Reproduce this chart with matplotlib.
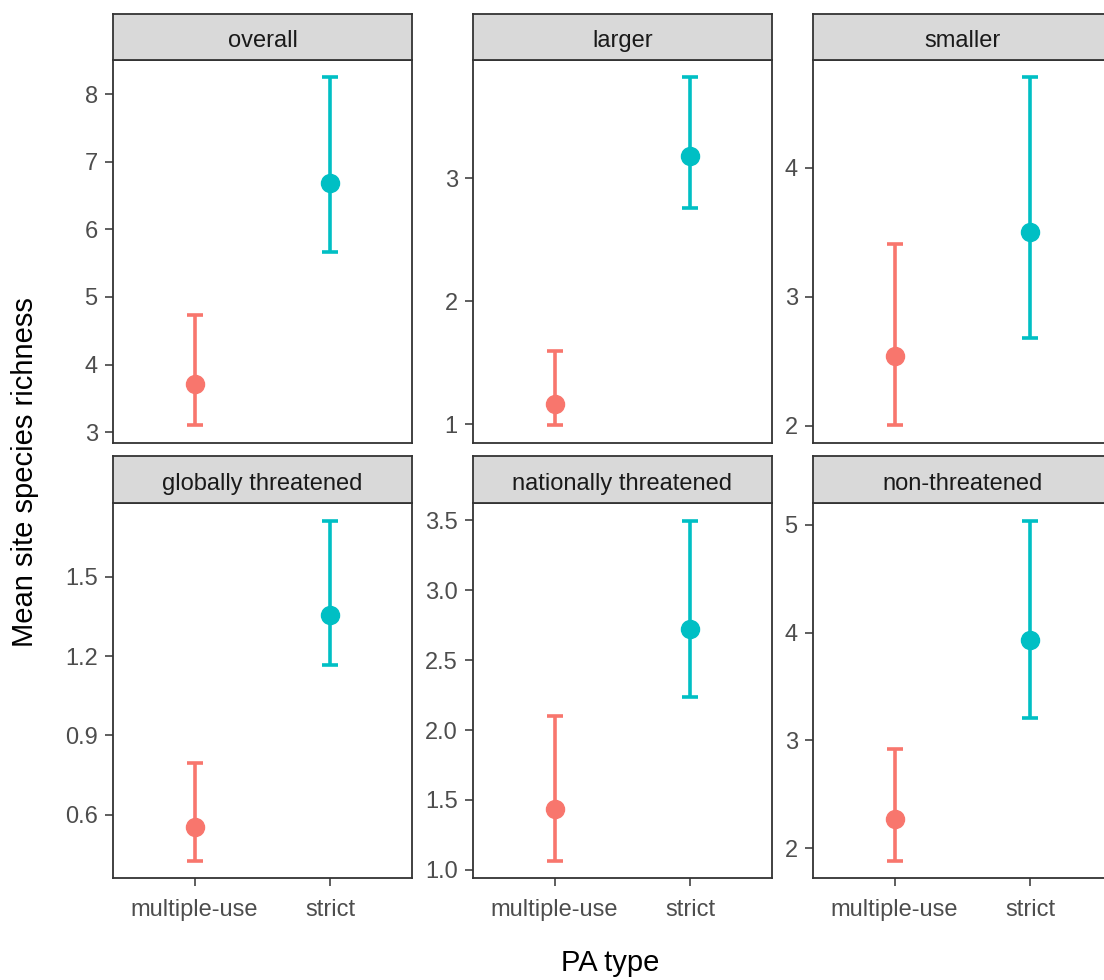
import matplotlib.pyplot as plt
import numpy as np

# Mean site species richness (point) with lower / upper interval, per PA type
pa_types = ["multiple-use", "strict"]
facets = ["overall", "larger", "smaller",
          "globally threatened", "nationally threatened", "non-threatened"]

means = [[3.71, 6.69], [1.16, 3.18], [2.54, 3.50],
         [0.555, 1.356], [1.437, 2.725], [2.27, 3.93]]
lowers = [[3.10, 5.66], [0.99, 2.76], [2.005, 2.68],
          [0.424, 1.167], [1.062, 2.238], [1.877, 3.21]]
uppers = [[4.74, 8.25], [1.595, 3.82], [3.41, 4.70],
          [0.796, 1.713], [2.10, 3.497], [2.92, 5.04]]

yticks = [[3, 4, 5, 6, 7, 8], [1, 2, 3], [2, 3, 4],
          [0.6, 0.9, 1.2, 1.5], [1.0, 1.5, 2.0, 2.5, 3.0, 3.5], [2, 3, 4, 5]]
ytick_labels = [["3", "4", "5", "6", "7", "8"], ["1", "2", "3"], ["2", "3", "4"],
                ["0.6", "0.9", "1.2", "1.5"],
                ["1.0", "1.5", "2.0", "2.5", "3.0", "3.5"], ["2", "3", "4", "5"]]

colors = ["#F8766D", "#00BFC4"]

plt.rcParams['font.family'] = ['Liberation Sans', 'DejaVu Sans']

W, H = 1104, 980
fig = plt.figure(figsize=(W / 100, H / 100), dpi=100)

col_left = [113, 473, 813]
panel_w = 299
rows = [(60, 442.7, 14), (503.5, 878.3, 456)]  # panel top, panel bottom, strip top

edge = "#333333"
tick_fs = 17

for i, name in enumerate(facets):
    r, c = divmod(i, 3)
    top, bot, stop = rows[r]
    x0 = col_left[c]
    ax = fig.add_axes([x0 / W, 1 - bot / H, panel_w / W, (bot - top) / H])
    sax = fig.add_axes([x0 / W, 1 - top / H, panel_w / W, (top - stop) / H])

    lo = np.array(lowers[i])
    hi = np.array(uppers[i])
    mu = np.array(means[i])
    for j in range(2):
        ax.errorbar(j + 1, mu[j], yerr=[[mu[j] - lo[j]], [hi[j] - mu[j]]],
                    fmt='o', color=colors[j], ms=13, elinewidth=2.6,
                    capsize=5.5, capthick=2.6, zorder=3)

    span = hi.max() - lo.min()
    ax.set_ylim(lo.min() - 0.05 * span, hi.max() + 0.05 * span)
    ax.set_xlim(0.4, 2.6)
    ax.set_yticks(yticks[i])
    ax.set_yticklabels(ytick_labels[i])
    ax.tick_params(axis='y', length=6, width=1.1, color=edge, pad=5,
                   labelsize=tick_fs, labelcolor="#4D4D4D")
    if r == 1:
        ax.set_xticks([1, 2])
        ax.set_xticklabels(pa_types)
        ax.tick_params(axis='x', length=6, width=1.1, color=edge, pad=9,
                       labelsize=tick_fs, labelcolor="#4D4D4D")
    else:
        ax.set_xticks([])
    for s in ax.spines.values():
        s.set_color(edge)
        s.set_linewidth(1.3)

    sax.set_facecolor("#D9D9D9")
    sax.set_xticks([])
    sax.set_yticks([])
    for s in sax.spines.values():
        s.set_color(edge)
        s.set_linewidth(1.3)
    sax.text(0.5, 0.42, name, transform=sax.transAxes, ha='center', va='center',
             fontsize=tick_fs, color="#1A1A1A")

fig.text(610 / W, 1 - 963 / H, "PA type", ha='center', va='center',
         fontsize=21, color="black")
fig.text(25 / W, 1 - 472 / H, "Mean site species richness", ha='center',
         va='center', rotation=90, fontsize=21, color="black")

fig.savefig("out.png", dpi=100)
